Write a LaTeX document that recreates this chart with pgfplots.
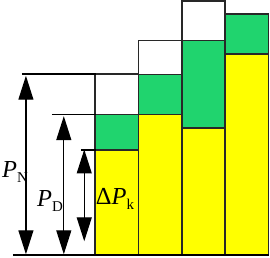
\documentclass[border=0pt]{standalone}
\usepackage{fontspec}
\setmainfont{Liberation Serif}
\usepackage{pgfplots}
\pgfplotsset{compat=1.18}
\usetikzlibrary{arrows.meta}
\definecolor{barY}{RGB}{255,255,0}
\definecolor{barG}{RGB}{32,212,110}
\definecolor{edge}{RGB}{40,40,40}
\begin{document}
\begin{tikzpicture}
\begin{axis}[
  scale only axis, width=270pt, height=258pt,
  xmin=0, xmax=270, ymin=-2, ymax=256,
  axis lines=none, clip=false,
  ybar, bar width=43.5, bar shift=0pt,
]
\path (rel axis cs:0,0) (rel axis cs:1,1);
% totals (white top)
\addplot[fill=white, draw=edge, line width=1.6pt] coordinates {(117,182) (160.5,215.3) (204,255) (247.5,241.7)};
% yellow + green
\addplot[fill=barG, draw=edge, line width=1.6pt] coordinates {(117,141) (160.5,181.3) (204,215.3) (247.5,241.7)};
% yellow
\addplot[fill=barY, draw=edge, line width=1.6pt] coordinates {(117,105.3) (160.5,141) (204,127.7) (247.5,201.7)};
% reference lines
\addplot[sharp plot, black, line width=1.6pt] coordinates {(13,0) (270,0)};
\addplot[sharp plot, black, line width=1.6pt] coordinates {(22,182) (96,182)};
\addplot[sharp plot, black, line width=1.6pt] coordinates {(52,141) (96,141)};
\addplot[sharp plot, black, line width=1.6pt] coordinates {(81,105.3) (96,105.3)};
% arrows
\addplot[sharp plot, black, line width=1.2pt, {Triangle[width=15pt,length=24pt]}-{Triangle[width=15pt,length=24pt]}] coordinates {(26,180) (26,1)};
\addplot[sharp plot, black, line width=1.2pt, {Triangle[width=15pt,length=24pt]}-{Triangle[width=15pt,length=24pt]}] coordinates {(64,139.5) (64,1)};
\addplot[sharp plot, black, line width=1.2pt, {Triangle[width=15pt,length=24pt]}-{Triangle[width=15pt,length=24pt]}] coordinates {(84.5,106) (84.5,14)};
% labels
\node[anchor=base west, inner sep=0pt] at (axis cs:2,78) {\fontsize{24.5}{24}\selectfont\textit{P}\raisebox{-5pt}{\fontsize{15}{15}\selectfont N}};
\node[anchor=base west, inner sep=0pt] at (axis cs:37,49) {\fontsize{24.5}{24}\selectfont\textit{P}\raisebox{-5pt}{\fontsize{15}{15}\selectfont D}};
\node[anchor=base west, inner sep=0pt] at (axis cs:96,51) {\fontsize{24.5}{24}\selectfont Δ\textit{P}\raisebox{-5pt}{\fontsize{15}{15}\selectfont k}};
\end{axis}
\end{tikzpicture}
\end{document}
